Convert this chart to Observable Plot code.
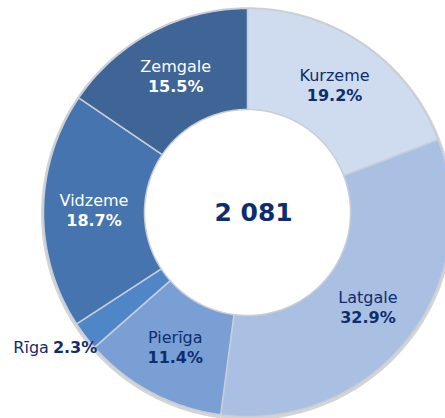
<!DOCTYPE html>
<html>
<head>
<meta charset="utf-8">
<script src="https://cdn.jsdelivr.net/npm/d3@7"></script>
<script src="https://cdn.jsdelivr.net/npm/@observablehq/plot@0.6"></script>
<style>
  html, body { margin: 0; padding: 0; background: #fff; }
  #chart { width: 445px; height: 418px; }
</style>
</head>
<body>
<div id="chart"></div>
<script>
const regions = ["Kurzeme", "Latgale", "Pierīga", "Rīga", "Vidzeme", "Zemgale"];
const shares = [19.2, 32.9, 11.4, 2.3, 18.7, 15.5];
const colors = ["#cfdbef", "#a9c0e2", "#7a9fd5", "#4f86c8", "#4674ae", "#3f6496"];
const labelColors = ["#0e2d6e", "#0e2d6e", "#0e2d6e", "#0e2d6e", "#ffffff", "#ffffff"];
const totalLabel = "2 081";

const W = 445, H = 418;
const cx = 247, cy = 212, R = 204;
const inner = 0.505;

const total = d3.sum(shares);
let acc = 0;
const slices = regions.map((r, i) => {
  const a0 = acc / total * 2 * Math.PI;
  acc += shares[i];
  const a1 = acc / total * 2 * Math.PI;
  return {region: r, share: shares[i], a0, a1, mid: (a0 + a1) / 2, i};
});

// polygon outlines of ring sectors in unit data space
const pts = [];
for (const s of slices) {
  const n = Math.max(2, Math.ceil((s.a1 - s.a0) / (Math.PI / 360)));
  for (let k = 0; k <= n; k++) {
    const a = s.a0 + (s.a1 - s.a0) * k / n;
    pts.push({region: s.region, x: Math.sin(a), y: Math.cos(a)});
  }
  for (let k = n; k >= 0; k--) {
    const a = s.a0 + (s.a1 - s.a0) * k / n;
    pts.push({region: s.region, x: inner * Math.sin(a), y: inner * Math.cos(a)});
  }
  pts.push({region: s.region, x: Math.sin(s.a0), y: Math.cos(s.a0)});
}

const rm = (1 + inner) / 2;
const inside = slices.filter(s => s.share > 5);
const outside = slices.filter(s => s.share <= 5);

const plot = Plot.plot({
  width: W,
  height: H,
  margin: 0,
  x: {domain: [-cx / R, (W - cx) / R], axis: null},
  y: {domain: [-(H - cy) / R, cy / R], axis: null},
  color: {domain: regions, range: colors},
  style: {fontFamily: "DejaVu Sans, Verdana, sans-serif", background: "#fff"},
  marks: [
    // soft outer shadow
    Plot.line(pts, {x: d => d.x * 1.012, y: d => d.y * 1.012 - 0.006, z: "region", fill: "#d4d4d4", stroke: "none", curve: "linear"}),
    Plot.line(pts, {x: "x", y: "y", z: "region", fill: "region", stroke: "#c8ced8", strokeWidth: 1.5, curve: "linear"}),
    Plot.text(inside, {x: d => rm * Math.sin(d.mid), y: d => rm * Math.cos(d.mid), text: "region", dy: -10, fontSize: 16, fill: d => labelColors[d.i]}),
    Plot.text(inside, {x: d => rm * Math.sin(d.mid), y: d => rm * Math.cos(d.mid), text: d => d.share.toFixed(1) + "%", dy: 10, fontSize: 16, fontWeight: "bold", fill: d => labelColors[d.i]}),
    Plot.text(outside, {x: d => 1.1 * Math.sin(d.mid), y: d => 1.1 * Math.cos(d.mid), text: d => d.region, textAnchor: "end", dx: -20, dy: 0, fontSize: 16, fill: d => labelColors[d.i]}),
    Plot.text(outside, {x: d => 1.1 * Math.sin(d.mid), y: d => 1.1 * Math.cos(d.mid), text: d => d.share.toFixed(1) + "%", textAnchor: "start", dx: -16, dy: 0, fontSize: 16, fontWeight: "bold", fill: d => labelColors[d.i]}),
    Plot.text([totalLabel], {x: () => 0.03, y: () => 0, text: d => d, fontSize: 25, fontWeight: "bold", fill: "#0e2d6e"})
  ]
});
document.getElementById("chart").appendChild(plot);
</script>
</body>
</html>
